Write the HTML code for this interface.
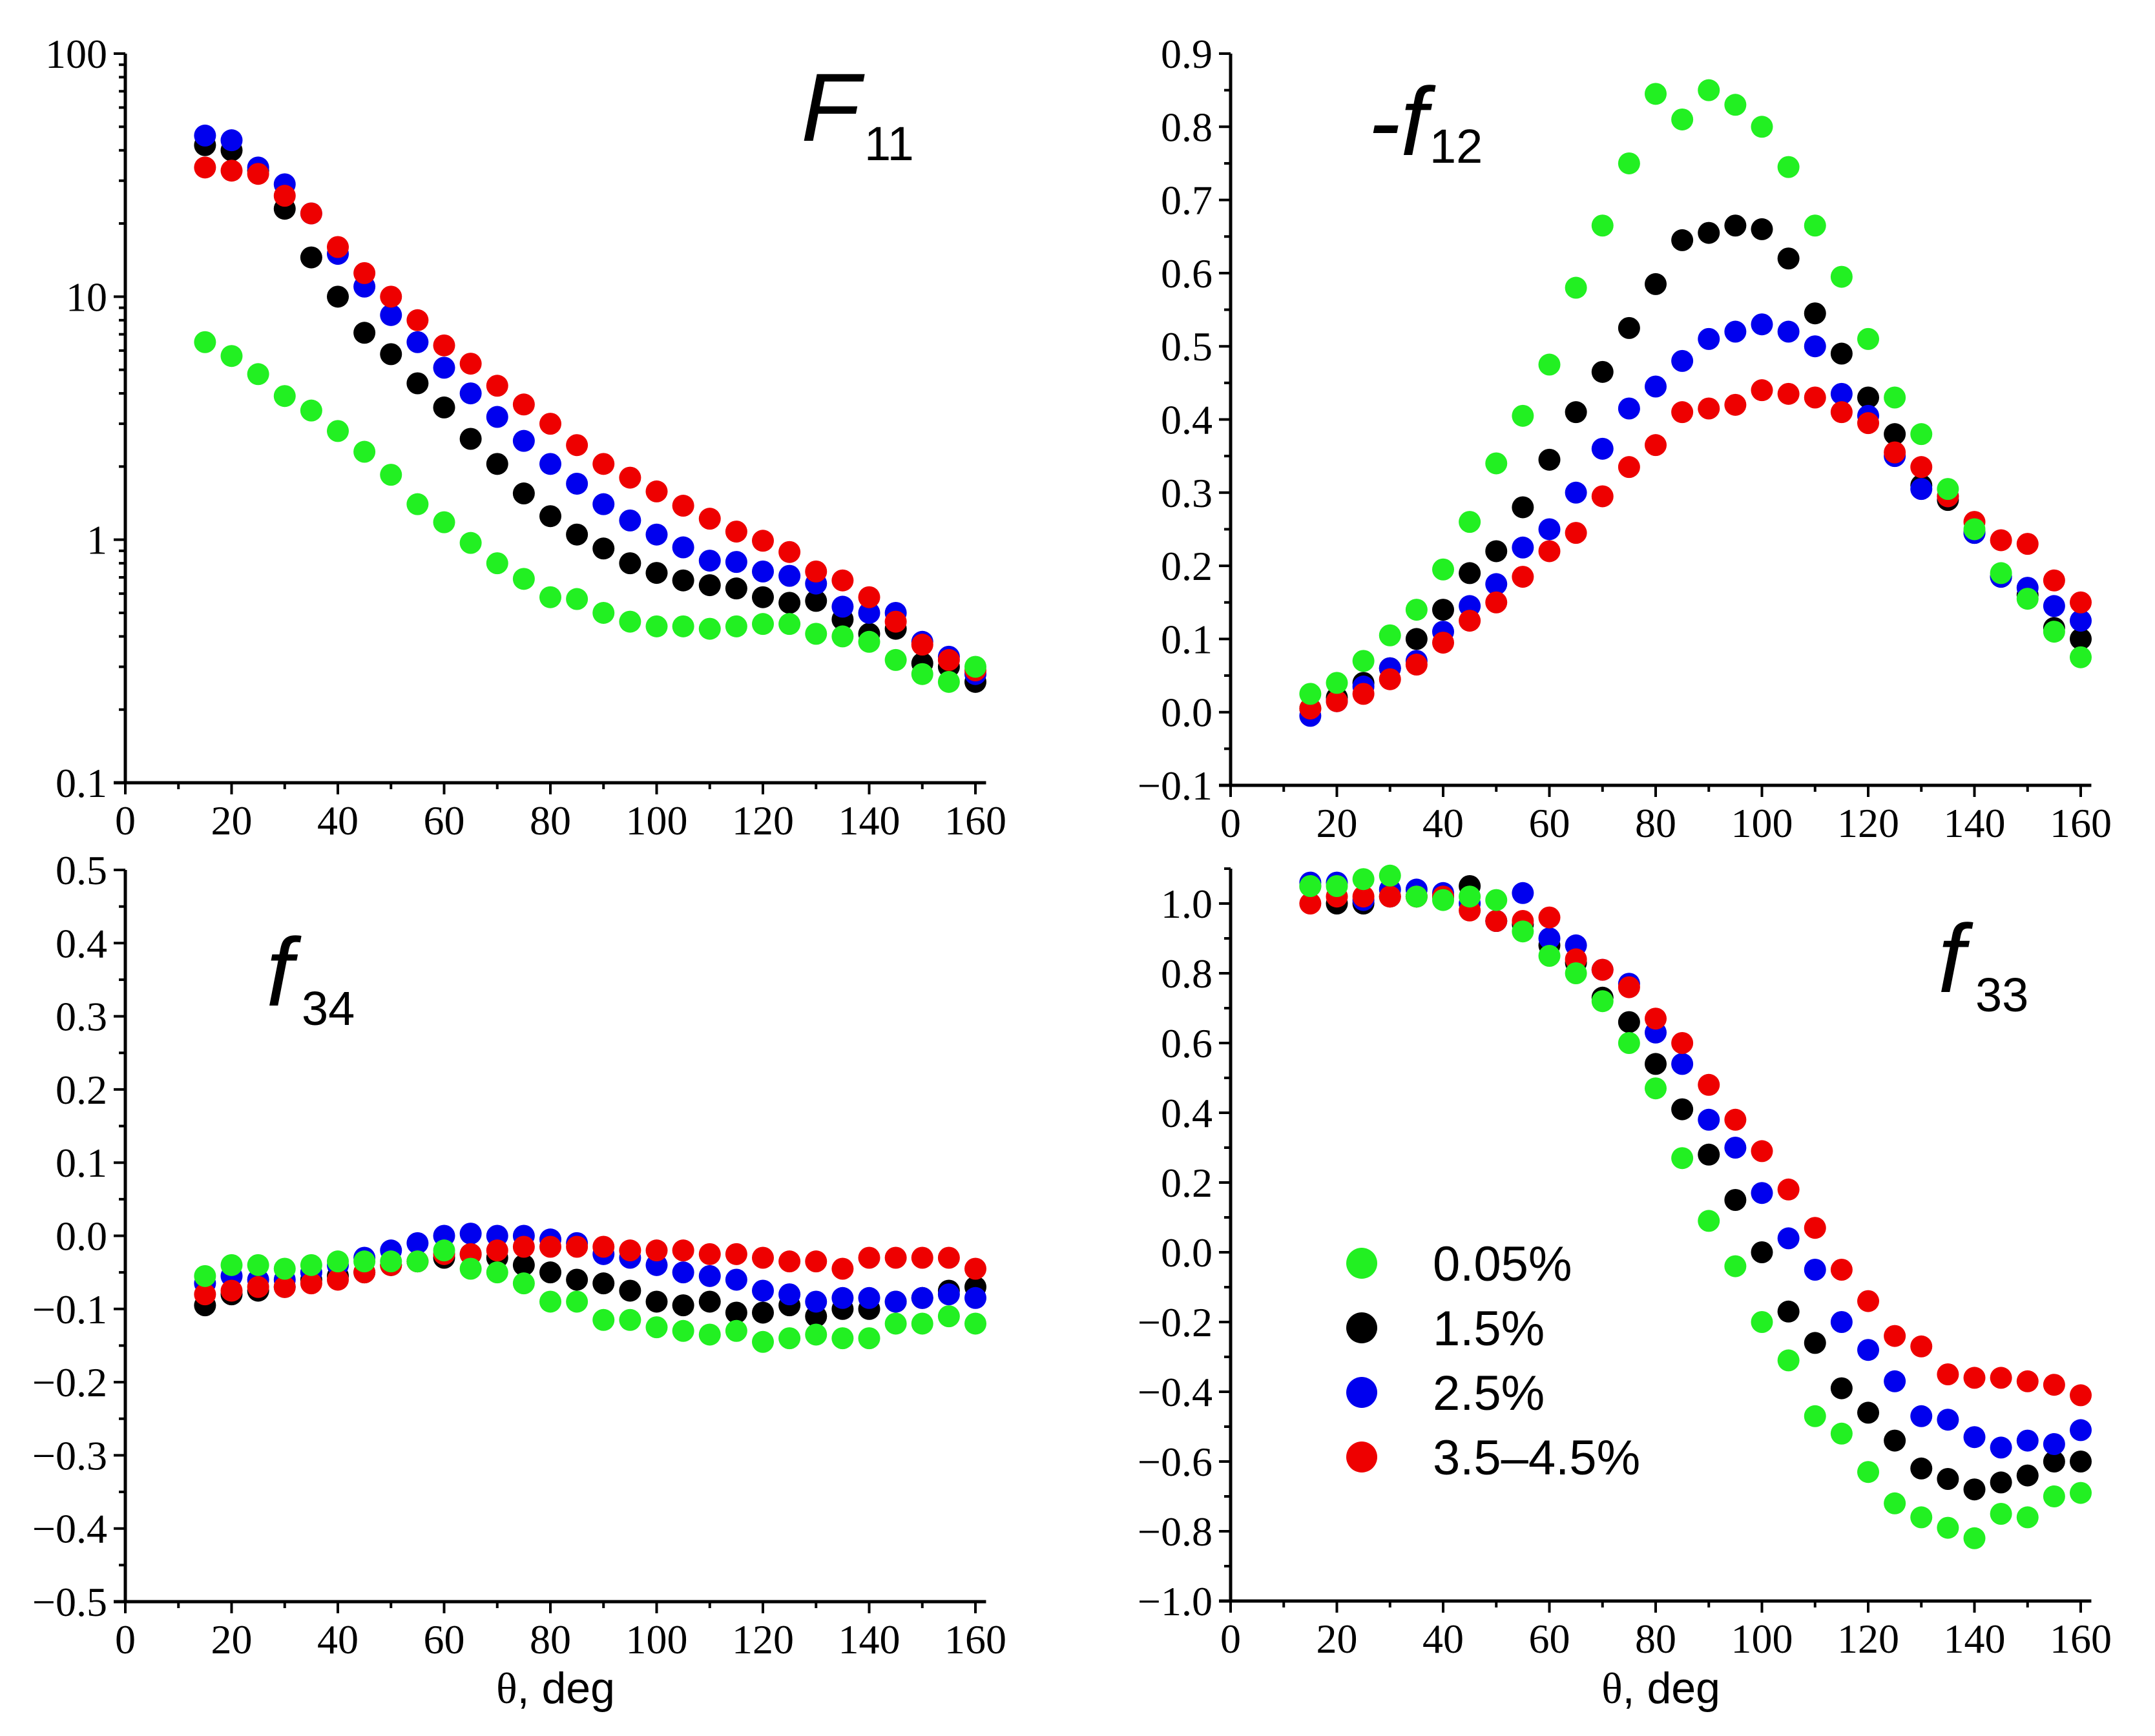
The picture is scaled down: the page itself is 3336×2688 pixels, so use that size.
<!DOCTYPE html>
<html><head><meta charset="utf-8"><style>
html,body{margin:0;padding:0;background:#fff;}
svg{display:block;}
.sans{font-family:"Liberation Sans", sans-serif;}
</style></head><body>
<svg id="fig" width="3336" height="2688" viewBox="0 0 3336 2688" xmlns="http://www.w3.org/2000/svg">
<rect width="3336" height="2688" fill="#fff"/>
<g id="axes"></g>
<g id="marks"></g>
<g class="sans" font-style="italic" fill="#000">
  <text x="1240" y="218" font-size="150">F</text>
  <text x="1338" y="248" font-size="74" font-style="normal">11</text>
  <text x="2118" y="240" font-size="150">-f</text>
  <text x="2213" y="252" font-size="74" font-style="normal">12</text>
  <text x="412" y="1557" font-size="150">f</text>
  <text x="467" y="1587" font-size="74" font-style="normal">34</text>
  <text x="3000" y="1536" font-size="150">f</text>
  <text x="3058" y="1566" font-size="74" font-style="normal">33</text>
</g>
<g class="sans" font-size="68" fill="#000" text-anchor="middle">
  <text x="860" y="2637"><tspan style="font-family:'Liberation Serif','Times New Roman','DejaVu Serif',serif">θ</tspan>, deg</text>
  <text x="2571" y="2637"><tspan style="font-family:'Liberation Serif','Times New Roman','DejaVu Serif',serif">θ</tspan>, deg</text>
</g>
<g id="legend" class="sans" font-size="76" fill="#000"></g>
</svg>
<script>
const angles = [15,20,25,30,35,40,45,50,55,60,65,70,75,80,85,90,95,100,105,110,115,120,125,130,135,140,145,150,155,160];
const seriesNames = ["0.05%","1.5%","2.5%","3.5–4.5%"];
const seriesColors = ["#22f022","#000000","#0000ee","#ee0000"];

const f11Green = [6.5,5.7,4.8,3.9,3.4,2.8,2.3,1.85,1.4,1.18,0.97,0.8,0.69,0.58,0.57,0.5,0.46,0.44,0.44,0.43,0.44,0.45,0.45,0.41,0.4,0.38,0.32,0.28,0.26,0.3];
const f11Black = [42,40,33,23,14.5,10,7.1,5.8,4.4,3.5,2.6,2.05,1.55,1.25,1.05,0.92,0.8,0.73,0.68,0.65,0.63,0.58,0.55,0.56,0.47,0.41,0.43,0.31,0.3,0.26];
const f11Blue = [46,44,34,29,22,15,11,8.4,6.5,5.1,4,3.2,2.55,2.05,1.7,1.4,1.2,1.05,0.93,0.82,0.81,0.74,0.71,0.66,0.53,0.5,0.5,0.38,0.33,0.28];
const f11Red = [34,33,32,26,22,16,12.5,10,8,6.3,5.3,4.3,3.6,3.0,2.45,2.05,1.8,1.58,1.38,1.22,1.08,0.99,0.89,0.74,0.68,0.58,0.46,0.37,0.32,0.29];

const f12Green = [0.025,0.04,0.07,0.105,0.14,0.195,0.26,0.34,0.405,0.475,0.58,0.665,0.75,0.845,0.81,0.85,0.83,0.8,0.745,0.665,0.595,0.51,0.43,0.38,0.305,0.25,0.19,0.155,0.11,0.075];
const f12Black = [0.005,0.02,0.04,0.06,0.1,0.14,0.19,0.22,0.28,0.345,0.41,0.465,0.525,0.585,0.645,0.655,0.665,0.66,0.62,0.545,0.49,0.43,0.38,0.31,0.29,0.245,0.185,0.16,0.115,0.1];
const f12Blue = [-0.005,0.015,0.035,0.06,0.07,0.11,0.145,0.175,0.225,0.25,0.3,0.36,0.415,0.445,0.48,0.51,0.52,0.53,0.52,0.5,0.435,0.405,0.35,0.305,0.295,0.245,0.185,0.17,0.145,0.125];
const f12Red = [0.005,0.015,0.025,0.045,0.065,0.095,0.125,0.15,0.185,0.22,0.245,0.295,0.335,0.365,0.41,0.415,0.42,0.44,0.435,0.43,0.41,0.395,0.355,0.335,0.295,0.26,0.235,0.23,0.18,0.15];

const f34Green = [-0.055,-0.04,-0.04,-0.045,-0.04,-0.035,-0.035,-0.035,-0.035,-0.02,-0.045,-0.05,-0.065,-0.09,-0.09,-0.115,-0.115,-0.125,-0.13,-0.135,-0.13,-0.145,-0.14,-0.135,-0.14,-0.14,-0.12,-0.12,-0.11,-0.12];
const f34Black = [-0.095,-0.08,-0.075,-0.07,-0.06,-0.055,-0.05,-0.04,-0.035,-0.03,-0.025,-0.03,-0.04,-0.05,-0.06,-0.065,-0.075,-0.09,-0.095,-0.09,-0.105,-0.105,-0.095,-0.11,-0.1,-0.1,-0.09,-0.085,-0.075,-0.07];
const f34Blue = [-0.065,-0.055,-0.06,-0.06,-0.05,-0.04,-0.03,-0.02,-0.01,0.0,0.003,0.0,0.0,-0.005,-0.01,-0.025,-0.03,-0.04,-0.05,-0.055,-0.06,-0.075,-0.08,-0.09,-0.085,-0.085,-0.09,-0.085,-0.08,-0.085];
const f34Red = [-0.08,-0.075,-0.07,-0.07,-0.065,-0.06,-0.05,-0.04,-0.035,-0.025,-0.025,-0.02,-0.015,-0.015,-0.015,-0.015,-0.02,-0.02,-0.02,-0.025,-0.025,-0.03,-0.035,-0.035,-0.045,-0.03,-0.03,-0.03,-0.03,-0.045];

const f33Green = [1.05,1.05,1.07,1.08,1.02,1.01,1.02,1.01,0.92,0.85,0.80,0.72,0.60,0.47,0.27,0.09,-0.04,-0.20,-0.31,-0.47,-0.52,-0.63,-0.72,-0.76,-0.79,-0.82,-0.75,-0.76,-0.70,-0.69];
const f33Black = [1.05,1.0,1.0,1.02,1.02,1.02,1.05,0.95,0.94,0.88,0.83,0.73,0.66,0.54,0.41,0.28,0.15,0.0,-0.17,-0.26,-0.39,-0.46,-0.54,-0.62,-0.65,-0.68,-0.66,-0.64,-0.60,-0.60];
const f33Blue = [1.06,1.06,1.01,1.04,1.04,1.03,1.0,0.95,1.03,0.90,0.88,0.81,0.77,0.63,0.54,0.38,0.30,0.17,0.04,-0.05,-0.20,-0.28,-0.37,-0.47,-0.48,-0.53,-0.56,-0.54,-0.55,-0.51];
const f33Red = [1.0,1.02,1.02,1.02,1.02,1.02,0.98,0.95,0.95,0.96,0.84,0.81,0.76,0.67,0.60,0.48,0.38,0.29,0.18,0.07,-0.05,-0.14,-0.24,-0.27,-0.35,-0.36,-0.36,-0.37,-0.38,-0.41];

const xTicks = [0,20,40,60,80,100,120,140,160];
const f11TickLabels = ["0.1","1","10","100"];
const f12TickLabels = ["−0.1","0.0","0.1","0.2","0.3","0.4","0.5","0.6","0.7","0.8","0.9"];
const f34TickLabels = ["−0.5","−0.4","−0.3","−0.2","−0.1","0.0","0.1","0.2","0.3","0.4","0.5"];
const f33TickLabels = ["−1.0","−0.8","−0.6","−0.4","−0.2","0.0","0.2","0.4","0.6","0.8","1.0"];

const SERIF = "font-family:'Liberation Serif','Times New Roman','DejaVu Serif',serif;font-size:64px";
const NS = "http://www.w3.org/2000/svg";
const axesG = document.getElementById("axes");
const marksG = document.getElementById("marks");
function mk(tag, attrs, parent){ const e=document.createElementNS(NS,tag); for(const k in attrs) e.setAttribute(k,attrs[k]); parent.appendChild(e); return e; }

const PXD = 1316/160;
const panels = [
 {name:"f11", x0:194, yTop:83, yBot:1212, log:true, lo:0.1, hi:100, series:[f11Black,f11Blue,f11Red,f11Green], labels:f11TickLabels},
 {name:"f12", x0:1905, yTop:83, yBot:1216, lo:-0.1, hi:0.9, major:0.1, minor:0.05, series:[f12Black,f12Blue,f12Red,f12Green], labels:f12TickLabels, labelStart:-0.1},
 {name:"f34", x0:194, yTop:1347, yBot:2480, lo:-0.5, hi:0.5, major:0.1, minor:0.05, series:[f34Black,f34Blue,f34Red,f34Green], labels:f34TickLabels, labelStart:-0.5},
 {name:"f33", x0:1905, yTop:1345, yBot:2479, lo:-1.0, hi:1.1, major:0.2, minor:0.1, series:[f33Black,f33Blue,f33Red,f33Green], labels:f33TickLabels, labelStart:-1.0}
];
const drawColors = [seriesColors[1],seriesColors[2],seriesColors[3],seriesColors[0]];
const drawNames = ["1-5pct","2-5pct","3-5-4-5pct","0-05pct"];

panels.forEach(p=>{
  const xs = d => p.x0 + d*PXD;
  const ys = p.log
    ? v => p.yBot - (Math.log10(v)-Math.log10(p.lo))/(Math.log10(p.hi)-Math.log10(p.lo))*(p.yBot-p.yTop)
    : v => p.yBot - (v-p.lo)/(p.hi-p.lo)*(p.yBot-p.yTop);
  const g = mk("g",{},axesG);
  
  
  const xEnd = p.x0 + 162*PXD;
  const yl = mk("line",{x1:p.x0,y1:p.yTop,x2:p.x0,y2:p.yBot+2,stroke:"#000","stroke-width":5},g);
  
  
  const xl = mk("line",{x1:p.x0-18,y1:p.yBot,x2:xEnd,y2:p.yBot,stroke:"#000","stroke-width":5},g);
  
  
  for(let d=0; d<=160; d+=10){
    const major = d%20===0;
    mk("line",{x1:xs(d),y1:p.yBot,x2:xs(d),y2:p.yBot+(major?18:10),stroke:"#000","stroke-width":4},g);
  }
  xTicks.forEach(t=>{
    const tx = mk("text",{x:xs(t),y:p.yBot+80,style:SERIF,"text-anchor":"middle"},g);
    
    
    tx.textContent = t;
  });
  if(p.log){
    for(let e=-1;e<=2;e++){
      for(let m=1;m<=9;m++){
        const v = m*Math.pow(10,e);
        if(v>p.hi+1e-9) break;
        const y = ys(v);
        mk("line",{x1:p.x0-(m===1?18:10),y1:y,x2:p.x0,y2:y,stroke:"#000","stroke-width":4},g);
      }
    }
    p.labels.forEach((lab,i)=>{
      const tx = mk("text",{x:p.x0-28,y:ys(Math.pow(10,i-1))+22,style:SERIF,"text-anchor":"end"},g);
      
      
      tx.textContent = lab;
    });
  } else {
    const n = Math.round((p.hi-p.lo)/p.minor);
    for(let i=0;i<=n;i++){
      const v = p.lo + i*p.minor;
      const isMajor = Math.abs(Math.round((v-p.lo)/p.major)*p.major-(v-p.lo))<1e-6;
      mk("line",{x1:p.x0-(isMajor?18:10),y1:ys(v),x2:p.x0,y2:ys(v),stroke:"#000","stroke-width":4},g);
    }
    p.labels.forEach((lab,i)=>{
      const v = p.labelStart + i*p.major;
      const tx = mk("text",{x:p.x0-28,y:ys(v)+22,style:SERIF,"text-anchor":"end"},g);
      
      
      tx.textContent = lab;
    });
  }
  p.series.forEach((arr,si)=>{
    const sg = mk("g",{fill:drawColors[si]},marksG);
    
    
    arr.forEach((v,i)=>{
      const c = mk("circle",{cx:xs(angles[i]),cy:ys(v),r:17},sg);
      
      
    });
  });
});

const legG = document.getElementById("legend");


seriesNames.forEach((nm,i)=>{
  const cy = 1956 + i*100;
  const c = mk("circle",{cx:2108,cy:cy,r:24,fill:seriesColors[i]},legG);
  
  
  const t = mk("text",{x:2218,y:cy+27},legG);
  
  
  t.textContent = nm;
});
</script>
</body></html>
